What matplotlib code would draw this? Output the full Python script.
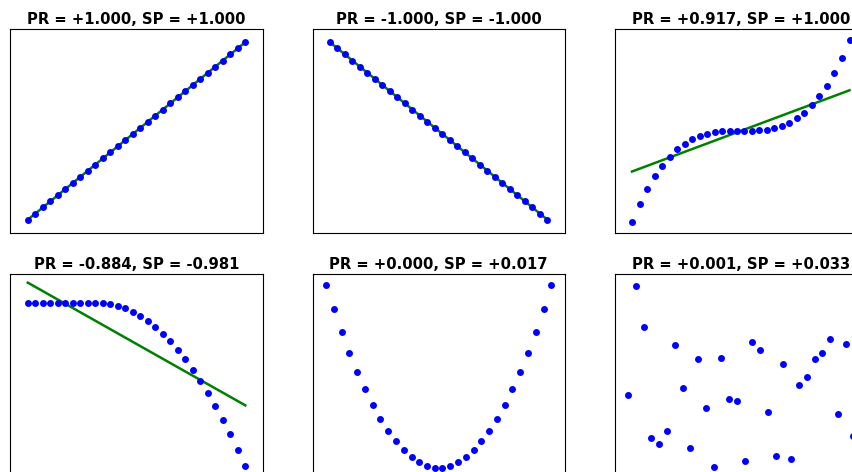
from __future__ import annotations

import matplotlib
matplotlib.use("Agg")
import matplotlib.pyplot as plt

# evenly spaced sample positions (30 points)
x_values = [
    -1.000, -0.931, -0.862, -0.793, -0.724, -0.655, -0.586, -0.517, -0.448, -0.379,
    -0.310, -0.241, -0.172, -0.103, -0.034, 0.034, 0.103, 0.172, 0.241, 0.310,
    0.379, 0.448, 0.517, 0.586, 0.655, 0.724, 0.793, 0.862, 0.931, 1.000,
]

linear_up = [
    -1.000, -0.931, -0.862, -0.793, -0.724, -0.655, -0.586, -0.517, -0.448, -0.379,
    -0.310, -0.241, -0.172, -0.103, -0.034, 0.034, 0.103, 0.172, 0.241, 0.310,
    0.379, 0.448, 0.517, 0.586, 0.655, 0.724, 0.793, 0.862, 0.931, 1.000,
]

linear_down = [
    1.000, 0.931, 0.862, 0.793, 0.724, 0.655, 0.586, 0.517, 0.448, 0.379,
    0.310, 0.241, 0.172, 0.103, 0.034, -0.034, -0.103, -0.172, -0.241, -0.310,
    -0.379, -0.448, -0.517, -0.586, -0.655, -0.724, -0.793, -0.862, -0.931, -1.000,
]

cubic = [
    -1.000, -0.807, -0.641, -0.499, -0.380, -0.281, -0.201, -0.138, -0.090, -0.055,
    -0.030, -0.014, -0.005, -0.001, 0.000, 0.000, 0.001, 0.005, 0.014, 0.030,
    0.055, 0.090, 0.138, 0.201, 0.281, 0.380, 0.499, 0.641, 0.807, 1.000,
]

flat_then_drop = [
    0.000, 0.000, 0.000, 0.000, 0.000, 0.000, 0.000, 0.000, 0.000, 0.000,
    0.000, -0.004, -0.016, -0.031, -0.051, -0.076, -0.109, -0.145, -0.186, -0.234,
    -0.287, -0.344, -0.408, -0.475, -0.551, -0.629, -0.715, -0.803, -0.900, -1.000,
]

parabola = [
    1.000, 0.867, 0.743, 0.629, 0.524, 0.429, 0.344, 0.268, 0.201, 0.144,
    0.096, 0.058, 0.030, 0.011, 0.001, 0.001, 0.011, 0.030, 0.058, 0.096,
    0.144, 0.201, 0.268, 0.344, 0.429, 0.524, 0.629, 0.743, 0.867, 1.000,
]

scattered = [
    0.394, 1.000, 0.770, 0.158, 0.123, 0.195, 0.670, 0.435, 0.105, 0.597,
    0.326, 0.000, 0.600, 0.374, 0.365, 0.033, 0.687, 0.645, 0.300, 0.059,
    0.565, 0.044, 0.449, 0.497, 0.595, 0.628, 0.707, 0.293, 0.676, 0.169,
]

# fitted line values at the first and last sample (None = no line drawn)
fit_up = [-1.000, 1.000]
fit_down = [1.000, -1.000]
fit_cubic = [-0.446, 0.447]
fit_drop = [0.127, -0.627]

titles = [
    "PR = +1.000, SP = +1.000",
    "PR = -1.000, SP = -1.000",
    "PR = +0.917, SP = +1.000",
    "PR = -0.884, SP = -0.981",
    "PR = +0.000, SP = +0.017",
    "PR = +0.001, SP = +0.033",
]

FIG_W, FIG_H = 853, 472
AX_W, AX_H = 252.3, 204.7
COL_LEFTS = [10.4, 312.5, 614.6]
ROW_TOPS = [28.6, 273.7]


def draw_panel(ax, y_values, fit, title, x_lim, y_lim) -> None:
    if fit is not None:
        ax.plot([x_values[0], x_values[-1]], fit, color = "green", linewidth = 1.8, zorder = 1)
    ax.plot(x_values, y_values, "o", color = "blue", markersize = 5.0,
            markeredgewidth = 0, zorder = 2)
    ax.set_xlim(x_lim)
    ax.set_ylim(y_lim)
    ax.set_xticks([])
    ax.set_yticks([])
    ax.set_title(title, fontsize = 10.6, fontweight = "bold", pad = 3.3)


fig = plt.figure(figsize = (FIG_W / 100, FIG_H / 100), dpi = 100)

panels = [
    (linear_up, fit_up, (-1.16, 1.16), (-1.153, 1.153)),
    (linear_down, fit_down, (-1.16, 1.16), (-1.153, 1.153)),
    (cubic, fit_cubic, (-1.16, 1.16), (-1.125, 1.125)),
    (flat_then_drop, fit_drop, (-1.16, 1.16), (-1.076, 0.182)),
    (parabola, None, (-1.12, 1.12), (-0.058, 1.062)),
    (scattered, None, (-1.12, 1.12), (-0.065, 1.066)),
]

for i, (y_values, fit, x_lim, y_lim) in enumerate(panels):
    row, col = divmod(i, 3)
    left = COL_LEFTS[col] / FIG_W
    bottom = 1 - (ROW_TOPS[row] + AX_H) / FIG_H
    ax = fig.add_axes([left, bottom, AX_W / FIG_W, AX_H / FIG_H])
    draw_panel(ax, y_values, fit, titles[i], x_lim, y_lim)

fig.savefig("out.png", dpi = 100)
plt.close(fig)
